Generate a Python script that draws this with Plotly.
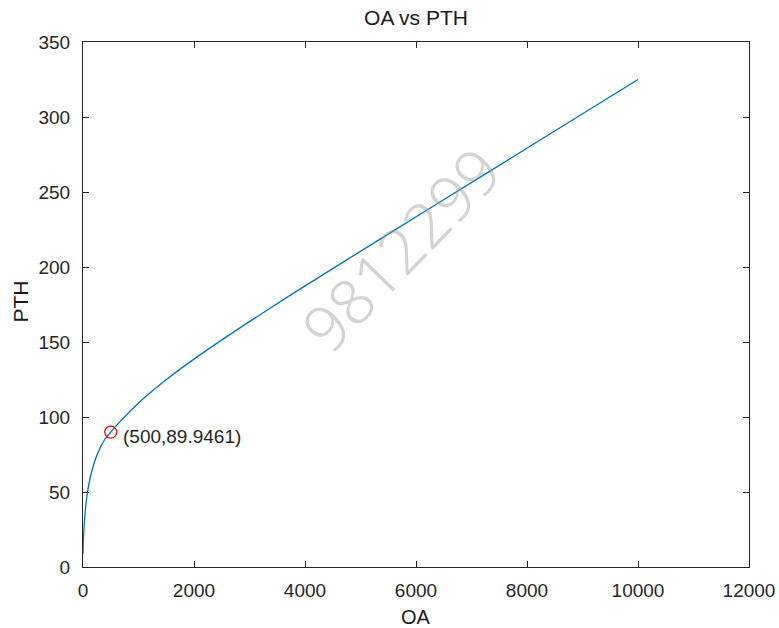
import plotly.graph_objects as go

# Data
oa_values = [0, 8, 20, 40, 70, 120, 175, 250, 325, 400, 500, 690, 1050, 1447, 2049, 2950, 3730, 5411, 7274, 9016, 10000]
pth_values = [8.5, 19, 27, 37, 47, 58, 66, 74.5, 80.5, 85.5, 89.9461, 97.9, 111, 123.3, 139.9, 162.4, 181.1, 219.9, 262.6, 302.5, 325]

marker_x = [500]
marker_y = [89.9461]
marker_label = "(500,89.9461)"

x_ticks = [0, 2000, 4000, 6000, 8000, 10000, 12000]
y_ticks = [0, 50, 100, 150, 200, 250, 300, 350]

title_text = "OA vs PTH"
x_label = "OA"
y_label = "PTH"
watermark = "9812299"

W, H = 779, 628
L, R, T, B = 83, 30, 42, 61

axis_color = "#262626"
font_family = "Liberation Sans, Arial, sans-serif"

fig = go.Figure()
fig.add_trace(go.Scatter(
    x=oa_values, y=pth_values, mode="lines",
    line=dict(color="#0072BD", width=1.3, shape="spline", smoothing=0.7),
    hoverinfo="skip", showlegend=False,
))
fig.add_trace(go.Scatter(
    x=marker_x, y=marker_y, mode="markers",
    marker=dict(symbol="circle-open", size=12, color="#FF0000", line=dict(width=1.2, color="#FF0000")),
    showlegend=False,
))

axis_common = dict(
    showgrid=False, zeroline=False, showline=True, linecolor=axis_color, linewidth=1,
    mirror="ticks", ticks="inside", ticklen=6, tickcolor=axis_color, tickwidth=1,
    tickfont=dict(family=font_family, size=19, color=axis_color),
)

fig.update_layout(
    width=W, height=H,
    margin=dict(l=L, r=R, t=T, b=B, autoexpand=False),
    paper_bgcolor="white", plot_bgcolor="white",
    xaxis=dict(range=[0, 12000], tickvals=x_ticks, ticktext=[str(v) for v in x_ticks],
               ticklabelstandoff=6, **axis_common),
    yaxis=dict(range=[0, 350], tickvals=y_ticks, ticktext=[str(v) for v in y_ticks],
               ticklabelstandoff=8, **axis_common),
    title=dict(text=title_text, x=(L + (W - R)) / 2 / W, xanchor="center",
               y=1 - 18 / H, yanchor="middle", yref="container",
               font=dict(family=font_family, size=21, color="#1a1a1a")),
    annotations=[
        dict(text=x_label, xref="paper", yref="paper",
             x=0.5, y=-(617 - (H - B)) / (H - T - B), xanchor="center", yanchor="middle",
             showarrow=False, font=dict(family=font_family, size=20, color="#1a1a1a")),
        dict(text=y_label, xref="paper", yref="paper", textangle=-90,
             x=-(L - 19.5) / (W - L - R), y=(H - B - 302) / (H - T - B), xanchor="center", yanchor="middle",
             showarrow=False, font=dict(family=font_family, size=21, color="#1a1a1a")),
        dict(text=marker_label, xref="x", yref="y", x=marker_x[0], y=marker_y[0],
             xanchor="left", yanchor="middle", xshift=10, yshift=-4,
             showarrow=False, font=dict(family=font_family, size=19, color=axis_color)),
        dict(text=watermark, xref="paper", yref="paper",
             x=(400 - L) / (W - L - R), y=(H - B - 248) / (H - T - B),
             xanchor="center", yanchor="middle", textangle=-46,
             showarrow=False, font=dict(family="Noto Sans, sans-serif", size=63, color="rgba(150,150,150,0.42)", weight=300)),
    ],
)

fig.write_html("out.html")
